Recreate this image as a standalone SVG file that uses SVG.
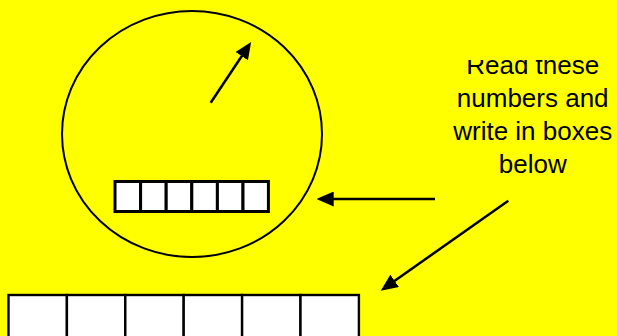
<svg xmlns="http://www.w3.org/2000/svg" width="617" height="336" viewBox="0 0 617 336">
  <style>
    .ln { stroke: #000; stroke-width: 2.5; fill: none; }
    .box { fill: #fff; stroke: #000; stroke-width: 2.4; }
    .sbox { fill: #fff; stroke: #000; stroke-width: 3; }
    .lbl { font-family: "Liberation Sans", Arial, sans-serif; font-size: 26px; fill: #000; text-anchor: middle; }
  </style>
  <defs>
    <marker id="ah" markerUnits="userSpaceOnUse" markerWidth="17" markerHeight="15" refX="2" refY="7.5" orient="auto" viewBox="0 0 17 15">
      <path d="M0,0 L17,7.5 L0,15 z" fill="#000"/>
    </marker>
    <clipPath id="txtclip">
      <rect x="420" y="60" width="197" height="130"/>
    </clipPath>
  </defs>
  <rect width="617" height="336" fill="#ffff00"/>

  <g id="meter">
    <ellipse cx="192" cy="134" rx="130" ry="123" fill="none" stroke="#000" stroke-width="2"/>
  </g>

  <g id="small-boxes">
    <rect class="sbox" x="115" y="181.5" width="25.6" height="30"/>
    <rect class="sbox" x="140.6" y="181.5" width="25.6" height="30"/>
    <rect class="sbox" x="166.2" y="181.5" width="25.6" height="30"/>
    <rect class="sbox" x="191.8" y="181.5" width="25.6" height="30"/>
    <rect class="sbox" x="217.4" y="181.5" width="25.6" height="30"/>
    <rect class="sbox" x="243" y="181.5" width="25.4" height="30"/>
  </g>

  <g id="large-boxes">
    <rect class="box" x="8.5" y="295" width="58.4" height="50"/>
    <rect class="box" x="66.9" y="295" width="58.4" height="50"/>
    <rect class="box" x="125.3" y="295" width="58.4" height="50"/>
    <rect class="box" x="183.7" y="295" width="58.4" height="50"/>
    <rect class="box" x="242.1" y="295" width="58.4" height="50"/>
    <rect class="box" x="300.5" y="295" width="58.4" height="50"/>
  </g>

  <g id="label" clip-path="url(#txtclip)">
    <text class="lbl" x="532.7" y="74">Read these</text>
    <text class="lbl" x="532.7" y="107">numbers and</text>
    <text class="lbl" x="532.7" y="140">write in boxes</text>
    <text class="lbl" x="532.7" y="172.5">below</text>
  </g>

  <g id="connectors">
    <line class="ln" x1="210.7" y1="102.7" x2="242.8" y2="54.5" marker-end="url(#ah)"/>
    <line class="ln" x1="435" y1="199" x2="331.7" y2="199" marker-end="url(#ah)"/>
    <line class="ln" x1="508.3" y1="200.7" x2="393" y2="282" marker-end="url(#ah)"/>
  </g>
</svg>
